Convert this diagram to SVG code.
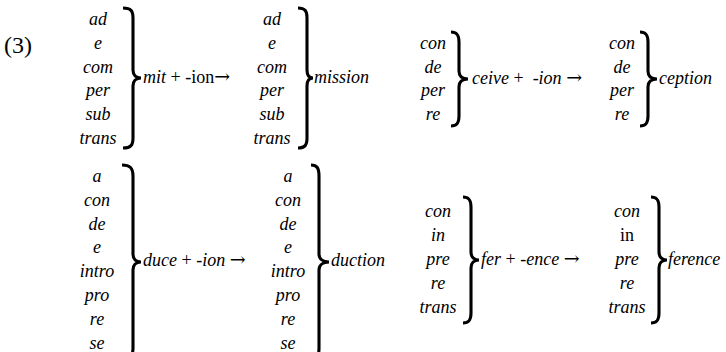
<svg xmlns="http://www.w3.org/2000/svg" width="726" height="352" viewBox="0 0 726 352">
<style>
text{font-family:"Liberation Serif","Times New Roman",serif;font-size:18px;fill:#000}
.i{font-style:italic}
.c{text-anchor:middle;font-style:italic}
.a{font-family:"DejaVu Serif",serif;font-style:normal;font-size:19px}
.b{fill:none;stroke:#000;stroke-width:3.1}
</style>
<rect width="726" height="352" fill="#fff"/>
<g id="label-3"><text x="4" y="53" style="font-size:24px">(3)</text></g>

<g id="mit-prefixes">
<text class="c" x="98" y="25">ad</text>
<text class="c" x="98" y="49">e</text>
<text class="c" x="98" y="72.5">com</text>
<text class="c" x="98" y="96">per</text>
<text class="c" x="98" y="120">sub</text>
<text class="c" x="98" y="144">trans</text>
<path class="b" d="M123,8 C131,8 133,11 133,18 L133,70 C133,75 136,78 141,78 C136,78 133,81 133,86 L133,138 C133,145 131,148 123,148"/>
<text x="143" y="83"><tspan class="i">mit</tspan> + -ion<tspan class="a">→</tspan></text>
</g>

<g id="mission-prefixes">
<text class="c" x="272" y="25">ad</text>
<text class="c" x="272" y="49">e</text>
<text class="c" x="272" y="72.5">com</text>
<text class="c" x="272" y="96">per</text>
<text class="c" x="272" y="120">sub</text>
<text class="c" x="272" y="144">trans</text>
<path class="b" d="M298,8 C305,8 307,11 307,18 L307,70 C307,75 309,78 313,78 C309,78 307,81 307,86 L307,138 C307,145 305,148 298,148"/>
<text class="i" x="314" y="83">mission</text>
</g>

<g id="ceive-prefixes">
<text class="c" x="433" y="48.5">con</text>
<text class="c" x="433" y="72.5">de</text>
<text class="c" x="433" y="96">per</text>
<text class="c" x="433" y="120">re</text>
<path class="b" d="M451,32 C457,32 459,35 459,42 L459,71 C459,76 462,79 468,79 C462,79 459,82 459,87 L459,116 C459,123 457,126 451,126"/>
<text x="472" y="84" xml:space="preserve"><tspan class="i">ceive</tspan> +  <tspan class="i">-ion</tspan> <tspan class="a">→</tspan></text>
</g>

<g id="ception-prefixes">
<text class="c" x="622" y="48.5">con</text>
<text class="c" x="622" y="72.5">de</text>
<text class="c" x="622" y="96">per</text>
<text class="c" x="622" y="120">re</text>
<path class="b" d="M640,32 C646,32 648,35 648,42 L648,71 C648,76 651,79 657,79 C651,79 648,82 648,87 L648,116 C648,123 646,126 640,126"/>
<text class="i" x="659" y="84">ception</text>
</g>

<g id="duce-prefixes">
<text class="c" x="97" y="182">a</text>
<text class="c" x="97" y="206">con</text>
<text class="c" x="97" y="229.5">de</text>
<text class="c" x="97" y="253">e</text>
<text class="c" x="97" y="277">intro</text>
<text class="c" x="97" y="301">pro</text>
<text class="c" x="97" y="325">re</text>
<text class="c" x="97" y="348.5">se</text>
<path class="b" d="M122,165 C130,165 133,168 133,176 L133,254 C133,259 136,262 141,262 C136,262 133,265 133,270 L133,348 C133,356 130,359 122,359"/>
<text x="143" y="266"><tspan class="i">duce</tspan> + <tspan class="i">-ion</tspan> <tspan class="a">→</tspan></text>
</g>

<g id="duction-prefixes">
<text class="c" x="288" y="182">a</text>
<text class="c" x="288" y="206">con</text>
<text class="c" x="288" y="229.5">de</text>
<text class="c" x="288" y="253">e</text>
<text class="c" x="288" y="277">intro</text>
<text class="c" x="288" y="301">pro</text>
<text class="c" x="288" y="325">re</text>
<text class="c" x="288" y="348.5">se</text>
<path class="b" d="M311,165 C317,165 319,168 319,176 L319,254 C319,259 323,262 329,262 C323,262 319,265 319,270 L319,348 C319,356 317,359 311,359"/>
<text class="i" x="331" y="266">duction</text>
</g>

<g id="fer-prefixes">
<text class="c" x="438" y="217">con</text>
<text class="c" x="438" y="241">in</text>
<text class="c" x="438" y="265">pre</text>
<text class="c" x="438" y="289">re</text>
<text class="c" x="438" y="313">trans</text>
<path class="b" d="M463,197 C469,197 471,200 471,207 L471,252 C471,257 474,260 479,260 C474,260 471,263 471,268 L471,313 C471,320 469,323 463,323"/>
<text x="481" y="265"><tspan class="i">fer</tspan> + <tspan class="i">-ence</tspan> <tspan class="a">→</tspan></text>
</g>

<g id="ference-prefixes">
<text class="c" x="627" y="217">con</text>
<text class="c" x="627" y="241" style="font-style:normal">in</text>
<text class="c" x="627" y="265">pre</text>
<text class="c" x="627" y="289">re</text>
<text class="c" x="627" y="313">trans</text>
<path class="b" d="M651,197 C657,197 659,200 659,207 L659,252 C659,257 662,260 667,260 C662,260 659,263 659,268 L659,313 C659,320 657,323 651,323"/>
<text class="i" x="668" y="265">ference</text>
</g>
</svg>
